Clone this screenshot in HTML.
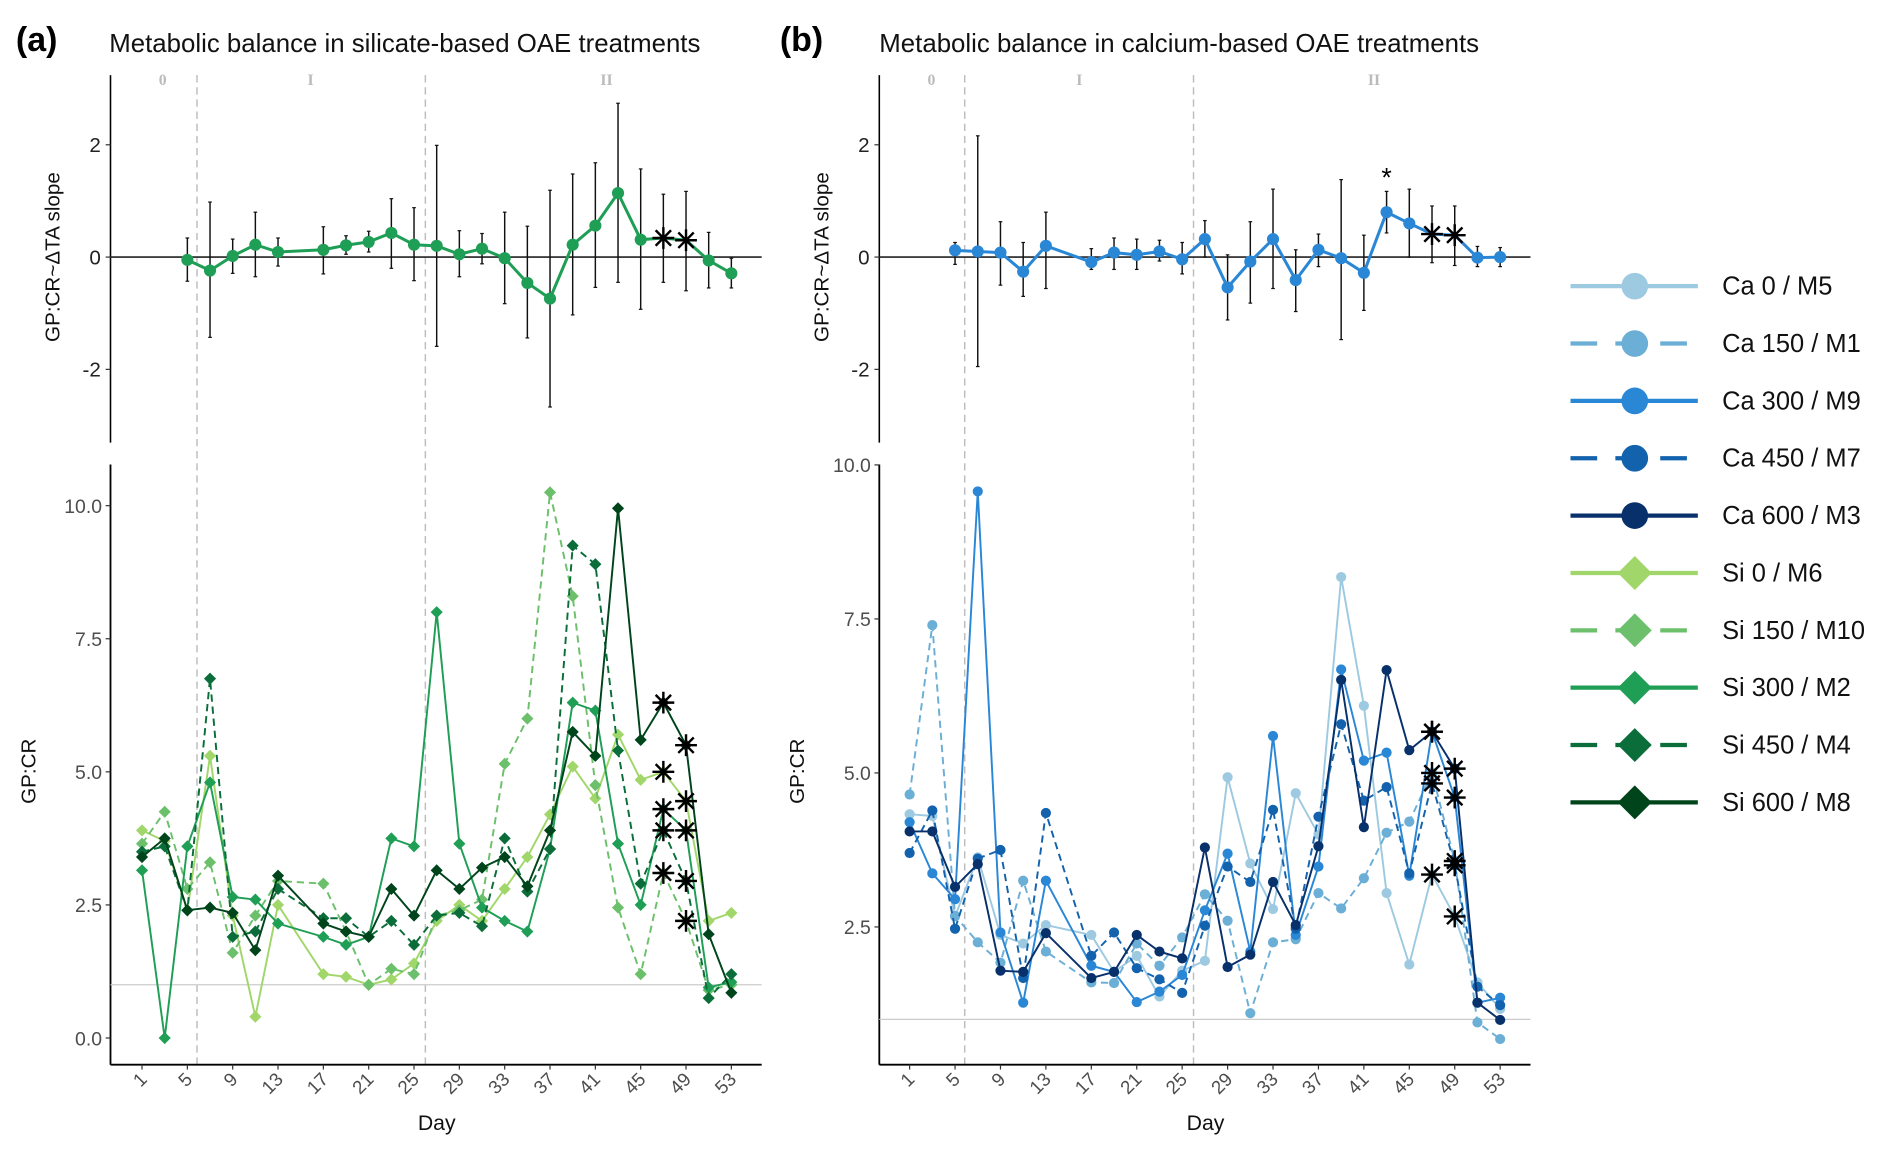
<!DOCTYPE html>
<html><head><meta charset="utf-8"><style>
html,body{margin:0;padding:0;background:#fff}
svg{display:block;font-family:"Liberation Sans",sans-serif}
</style></head><body>
<svg id="fig" width="1892" height="1152" viewBox="0 0 1560 950" xmlns="http://www.w3.org/2000/svg"></svg>
<script>
const days=[1,3,5,7,9,11,13,17,19,21,23,25,27,29,31,33,35,37,39,41,43,45,47,49,51,53];
const slopeDays=[5,7,9,11,13,17,19,21,23,25,27,29,31,33,35,37,39,41,43,45,47,49,51,53];
const xTicks=[1,5,9,13,17,21,25,29,33,37,41,45,49,53];
const topTicks=[2,0,-2];
const blTicks=[0,2.5,5,7.5,10];
const brTicks=[2.5,5,7.5,10];
const starDays=[47,49];
// silicate slope
const siSlope=[-0.05,-0.24,0.02,0.22,0.09,0.13,0.21,0.27,0.43,0.22,0.20,0.05,0.15,-0.02,-0.46,-0.74,0.22,0.56,1.14,0.31,0.34,0.30,-0.06,-0.29];
const siHi=[0.34,0.98,0.32,0.80,0.34,0.54,0.38,0.46,1.04,0.88,1.99,0.47,0.42,0.80,0.55,1.19,1.48,1.68,2.74,1.57,1.12,1.17,0.44,-0.02];
const siLo=[-0.43,-1.43,-0.29,-0.35,-0.16,-0.30,0.05,0.09,-0.20,-0.42,-1.59,-0.35,-0.12,-0.83,-1.44,-2.67,-1.03,-0.54,-0.45,-0.93,-0.45,-0.60,-0.55,-0.55];
// calcium slope
const caSlope=[0.12,0.10,0.08,-0.26,0.20,-0.09,0.08,0.04,0.10,-0.04,0.32,-0.54,-0.08,0.32,-0.41,0.13,-0.02,-0.28,0.80,0.60,0.41,0.39,-0.01,0.00];
const caHi=[0.26,2.16,0.63,0.26,0.80,0.15,0.34,0.32,0.30,0.26,0.65,0.04,0.63,1.21,0.13,0.41,1.38,0.39,1.17,1.21,0.91,0.91,0.19,0.17];
const caLo=[-0.13,-1.95,-0.50,-0.70,-0.56,-0.22,-0.22,-0.22,-0.07,-0.30,0.00,-1.12,-0.82,-0.56,-0.97,-0.17,-1.47,-0.95,0.43,0.00,-0.10,-0.15,-0.17,-0.17];
// silicate GP:CR
const si0=[3.9,3.7,2.4,5.3,2.3,0.4,2.5,1.2,1.15,1.0,1.1,1.4,2.2,2.5,2.2,2.8,3.4,4.2,5.1,4.5,5.7,4.85,5.0,4.45,2.2,2.35];
const si150=[3.65,4.25,2.8,3.3,1.6,2.3,2.95,2.9,2.0,1.0,1.3,1.2,2.3,2.4,2.6,5.15,6.0,10.25,8.3,4.75,2.45,1.2,3.1,2.2,0.9,1.0];
const si300=[3.15,0.0,3.6,4.8,2.65,2.6,2.15,1.9,1.75,1.9,3.75,3.6,8.0,3.65,2.45,2.2,2.0,3.55,6.3,6.15,3.65,2.5,4.3,3.9,0.95,1.05];
const si450=[3.5,3.6,2.4,6.75,1.9,2.0,2.8,2.25,2.25,1.9,2.2,1.75,2.3,2.35,2.1,3.75,2.75,3.55,9.25,8.9,5.4,2.9,3.9,2.95,0.75,1.2];
const si600=[3.4,3.75,2.4,2.45,2.35,1.65,3.05,2.15,2.0,1.9,2.8,2.3,3.15,2.8,3.2,3.4,2.85,3.9,5.75,5.3,9.95,5.6,6.3,5.5,1.95,0.85];
// calcium GP:CR
const ca0=[4.33,4.3,2.67,3.63,2.37,2.23,2.53,2.37,1.77,2.03,1.37,1.79,1.95,4.93,3.53,2.79,4.67,4.0,8.18,6.09,3.05,1.89,3.35,2.67,1.6,1.17];
const ca150=[4.65,7.4,2.68,2.25,1.92,3.25,2.1,1.6,1.59,2.23,1.87,2.33,3.03,2.6,1.1,2.25,2.3,3.05,2.8,3.29,4.03,4.21,5.0,3.57,0.95,0.68];
const ca300=[4.2,3.37,2.95,9.57,2.41,1.27,3.25,1.87,1.77,1.28,1.45,1.72,2.77,3.69,2.1,5.6,2.37,3.48,6.68,5.2,5.33,3.33,5.67,4.6,1.27,1.35];
const ca450=[3.7,4.39,2.47,3.61,3.75,1.67,4.35,2.03,2.41,1.83,1.65,1.43,2.52,3.48,3.23,4.4,2.47,4.29,5.79,4.55,4.77,3.37,4.83,3.5,1.53,1.23];
const ca600=[4.05,4.05,3.15,3.52,1.79,1.77,2.4,1.67,1.77,2.37,2.1,1.99,3.79,1.85,2.05,3.23,2.53,3.81,6.51,4.12,6.67,5.37,5.67,5.07,1.27,0.99];
const legendLabels=["Ca 0 / M5","Ca 150 / M1","Ca 300 / M9","Ca 450 / M7","Ca 600 / M3","Si 0 / M6","Si 150 / M10","Si 300 / M2","Si 450 / M4","Si 600 / M8"];

const NS="http://www.w3.org/2000/svg";
const svg=document.getElementById('fig');
function mk(tag,attrs,parent,txt){const e=document.createElementNS(NS,tag);for(const k in attrs)e.setAttribute(k,attrs[k]);if(txt!==undefined)e.textContent=txt;(parent||svg).appendChild(e);return e;}
function grp(name){const g=mk('g',{});return g;}

const xL=d=>117+(d-1)*9.346, xR=d=>750+(d-1)*9.365;
const yT=v=>212-v*46.3;
const yBL=v=>856-v*43.9;
const yBR=v=>840.6-(v-1)*50.8;

function star(g,x,y,r){const p=[];for(let i=0;i<4;i++){const a=i*Math.PI/4;p.push(`M${x-r*Math.cos(a)},${y-r*Math.sin(a)}L${x+r*Math.cos(a)},${y+r*Math.sin(a)}`);}
 const s=mk('path',{d:p.join(''),stroke:'#000','stroke-width':2},g);
 
 }
function diamond(g,x,y,r,c){const d=mk('path',{d:`M${x},${y-r}L${x+r},${y}L${x},${y+r}L${x-r},${y}Z`,fill:c},g);return d;}

function panel(side){
 const L=side==='a';
 const X=L?xL:xR, x0=L?91:725, x1=L?628:1262;
 const yB=L?yBL:yBR;
 const P=grp(L?'panel-a':'panel-b');
 mk('text',{x:L?13:643,y:42,'font-size':28,'font-weight':'bold',fill:'#000'},P,L?'(a)':'(b)');
 mk('text',{x:L?90:725,y:43,'font-size':21.3,fill:'#111'},P,L?'Metabolic balance in silicate-based OAE treatments':'Metabolic balance in calcium-based OAE treatments');
 [5.85,26].forEach(d=>{const l=mk('line',{x1:X(d),x2:X(d),y1:62,y2:878,stroke:'#bdbdbd','stroke-width':1.2,'stroke-dasharray':'6 4'},P);});
 [['0',L?134:768],['I',L?256:890],['II',L?500:1133]].forEach(([t,x])=>{const e=mk('text',{x:x,y:70,'font-size':13,'font-family':'Liberation Serif, serif','text-anchor':'middle',fill:'#bbb','font-weight':'bold'},P,t);});
 const T=grp('slope-panel');P.appendChild(T);
 mk('line',{x1:x0,x2:x0,y1:62,y2:365,stroke:'#000','stroke-width':1.3},T);
 mk('line',{x1:x0,x2:x1,y1:yT(0),y2:yT(0),stroke:'#222','stroke-width':1.3},T);
 topTicks.forEach(v=>{mk('line',{x1:x0-4,x2:x0,y1:yT(v),y2:yT(v),stroke:'#333'},T);const t=mk('text',{x:x0-8,y:yT(v)+6,'font-size':17,'text-anchor':'end',fill:'#222'},T,String(v));});
 mk('text',{transform:`translate(${L?49:683},212) rotate(-90)`,'font-size':17,'text-anchor':'middle',fill:'#111'},T,'GP:CR~ΔTA slope');
 const m=L?siSlope:caSlope, hi=L?siHi:caHi, lo=L?siLo:caLo, col=L?'#1f9e55':'#2a87d6';
 slopeDays.forEach((d,i)=>{const e=mk('line',{x1:X(d),x2:X(d),y1:yT(hi[i]),y2:yT(lo[i]),stroke:'#111','stroke-width':1.2},T);
  [hi[i],lo[i]].forEach(v=>mk('line',{x1:X(d)-1.5,x2:X(d)+1.5,y1:yT(v),y2:yT(v),stroke:'#111'},T));});
 const pl=mk('polyline',{points:slopeDays.map((d,i)=>X(d)+','+yT(m[i])).join(' '),fill:'none',stroke:col,'stroke-width':2.5},T);
 
 slopeDays.forEach((d,i)=>{if(starDays.includes(d)){star(T,X(d),yT(m[i]),9);}else{const c=mk('circle',{cx:X(d),cy:yT(m[i]),r:5,fill:col},T);}});
 if(!L){const i=slopeDays.indexOf(43);mk('text',{x:X(43),y:yT(caHi[i])-4,'font-size':22,'text-anchor':'middle',fill:'#000'},T,'*');}
 const B=grp('gpcr-panel');P.appendChild(B);
 mk('line',{x1:x0,x2:x0,y1:383,y2:878,stroke:'#000','stroke-width':1.5},B);
 mk('line',{x1:x0,x2:x1,y1:878,y2:878,stroke:'#000','stroke-width':1.5},B);
 mk('line',{x1:x0,x2:x1,y1:yB(1),y2:yB(1),stroke:'#ccc','stroke-width':1},B);
 (L?blTicks:brTicks).forEach(v=>{mk('line',{x1:x0-4,x2:x0,y1:yB(v),y2:yB(v),stroke:'#333'},B);const t=mk('text',{x:x0-7,y:yB(v)+6,'font-size':16,'text-anchor':'end',fill:'#4d4d4d'},B,v.toFixed(1));});
 xTicks.forEach(d=>{mk('line',{x1:X(d),x2:X(d),y1:878,y2:882,stroke:'#333'},B);const t=mk('text',{transform:`translate(${X(d)+5},${891}) rotate(-45)`,'font-size':15.5,'text-anchor':'end',fill:'#4d4d4d'},B,String(d));});
 mk('text',{x:L?360:994,y:932,'font-size':17.5,'text-anchor':'middle',fill:'#111'},B,'Day');
 mk('text',{transform:`translate(${L?29:663},636) rotate(-90)`,'font-size':17,'text-anchor':'middle',fill:'#111'},B,'GP:CR');
 const series=L?[[si0,'#a1d76a',0],[si150,'#6cc06b',1],[si300,'#1f9e55',0],[si450,'#0b6e3a',1],[si600,'#00441b',0]]
               :[[ca0,'#9ecae1',0],[ca150,'#6baed6',1],[ca300,'#2a87d6',0],[ca450,'#1262ad',1],[ca600,'#08306b',0]];
 series.forEach(([vals,c,dash],si)=>{const g=grp('series-'+(L?'si':'ca')+si);B.appendChild(g);
  const p=mk('polyline',{points:days.map((d,i)=>X(d)+','+yB(vals[i])).join(' '),fill:'none',stroke:c,'stroke-width':1.6},g);
  if(dash)p.setAttribute('stroke-dasharray','6 4');
  
  days.forEach((d,i)=>{let e;if(L)e=diamond(g,X(d),yB(vals[i]),5,c);else e=mk('circle',{cx:X(d),cy:yB(vals[i]),r:4.2,fill:c},g);
   });
 });
 series.forEach(([vals])=>{days.forEach((d,i)=>{if(starDays.includes(d))star(B,X(d),yB(vals[i]),9);});});
}
panel('a');panel('b');
const LG=grp('legend');
const lcols=['#9ecae1','#6baed6','#2a87d6','#1262ad','#08306b','#a1d76a','#6cc06b','#1f9e55','#0b6e3a','#00441b'];
legendLabels.forEach((t,i)=>{const y=236+i*47.3;const g=grp('legend-entry');LG.appendChild(g);
 const ln=mk('line',{x1:1295,x2:1400,y1:y,y2:y,stroke:lcols[i],'stroke-width':3.5},g);
 if(i%5===1||i%5===3)ln.setAttribute('stroke-dasharray','22 15');
 if(i<5)mk('circle',{cx:1348,cy:y,r:11,fill:lcols[i]},g);else diamond(g,1348,y,14,lcols[i]);
 mk('text',{x:1420,y:y+7,'font-size':21,fill:'#111'},g,t);
});
</script>
</body></html>
